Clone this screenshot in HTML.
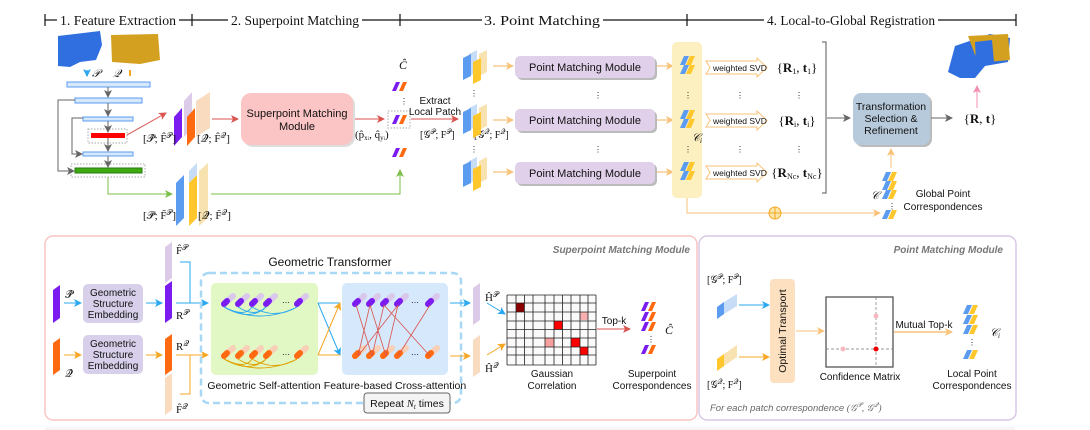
<!DOCTYPE html>
<html><head><meta charset="utf-8"><style>
html,body{margin:0;padding:0;background:#fff}
svg{display:block}
text{font-family:"Liberation Sans",sans-serif;fill:#111}
.s{font-family:"Liberation Serif",serif}
</style></head><body>
<svg width="1090" height="430" viewBox="0 0 1090 430" xmlns="http://www.w3.org/2000/svg">
<defs>
<marker id="ag" markerWidth="8" markerHeight="8" refX="7" refY="4" orient="auto" markerUnits="userSpaceOnUse"><path d="M0,0L8,4L0,8L2,4z" fill="#666"/></marker>
<marker id="ar" markerWidth="8" markerHeight="8" refX="7" refY="4" orient="auto" markerUnits="userSpaceOnUse"><path d="M0,0L8,4L0,8L2,4z" fill="#d9534f"/></marker>
<marker id="agr" markerWidth="8" markerHeight="8" refX="7" refY="4" orient="auto" markerUnits="userSpaceOnUse"><path d="M0,0L8,4L0,8L2,4z" fill="#7bbf4a"/></marker>
<marker id="ao" markerWidth="8" markerHeight="8" refX="7" refY="4" orient="auto" markerUnits="userSpaceOnUse"><path d="M0,0L8,4L0,8L2,4z" fill="#f9c27a"/></marker>
<marker id="ao2" markerWidth="8" markerHeight="8" refX="7" refY="4" orient="auto" markerUnits="userSpaceOnUse"><path d="M0,0L8,4L0,8L2,4z" fill="#f5a623"/></marker>
<marker id="ab" markerWidth="8" markerHeight="8" refX="7" refY="4" orient="auto" markerUnits="userSpaceOnUse"><path d="M0,0L8,4L0,8L2,4z" fill="#2aa8f0"/></marker>
<marker id="ap" markerWidth="8" markerHeight="8" refX="7" refY="4" orient="auto" markerUnits="userSpaceOnUse"><path d="M0,0L8,4L0,8L2,4z" fill="#f48fb1"/></marker>
<g id="pr"><polygon points="0,9 4,0 8,0 4,9" fill="#7a1cf0"/><polygon points="7,9 11,0 15,0 11,9" fill="#ff6a10"/></g>
<g id="by"><polygon points="0,9 4,0 9,0 5,9" fill="#5b9cf0"/><polygon points="6,9 10,0 15,0 11,9" fill="#ffc72c"/></g>
<g id="ptc"><polygon points="6,4 14,0 14,22 6,26" fill="#c6dcf7"/><polygon points="0,8 8,4 8,26 0,30" fill="#5b9cf0"/><polygon points="16,4 24,0 24,22 16,26" fill="#f8e2b0"/><polygon points="10,12 18,8 18,30 10,34" fill="#ffc72c"/></g>
<g id="tokp"><line x1="0" y1="8" x2="9" y2="0" stroke="#d9c8ec" stroke-width="6" stroke-linecap="round"/><line x1="0" y1="8" x2="3" y2="5" stroke="#7a1cf0" stroke-width="6" stroke-linecap="round"/></g>
<g id="toko"><line x1="0" y1="8" x2="9" y2="0" stroke="#f8d0b8" stroke-width="6" stroke-linecap="round"/><line x1="0" y1="8" x2="3" y2="5" stroke="#ff6a10" stroke-width="6" stroke-linecap="round"/></g>
</defs>

<!-- header -->
<g stroke="#111" stroke-width="1.2">
<line x1="45" y1="14" x2="45" y2="26"/><line x1="45" y1="20" x2="57" y2="20"/>
<line x1="179" y1="20" x2="228" y2="20"/><line x1="192" y1="14" x2="192" y2="26"/>
<line x1="362" y1="20" x2="482" y2="20"/><line x1="400" y1="14" x2="400" y2="26"/>
<line x1="603" y1="20" x2="764" y2="20"/><line x1="687" y1="14" x2="687" y2="26"/>
<line x1="938" y1="20" x2="1016" y2="20"/><line x1="1016" y1="14" x2="1016" y2="26"/>
</g>
<g font-size="14">
<text x="60" y="25" class="s" textLength="116" lengthAdjust="spacingAndGlyphs">1. Feature Extraction</text>
<text x="231" y="25" class="s" textLength="128" lengthAdjust="spacingAndGlyphs">2. Superpoint Matching</text>
<text x="484" y="25" class="s" textLength="116" lengthAdjust="spacingAndGlyphs">3. Point Matching</text>
<text x="767" y="25" class="s" textLength="168" lengthAdjust="spacingAndGlyphs">4. Local-to-Global Registration</text>
</g>

<!-- point clouds -->
<polygon points="58,36 100,31 102,45 96,60 80,62 70,67 58,66" fill="#2f6fe0"/>
<polygon points="111,35 158,34 160,60 140,64 112,62" fill="#d4a020"/>
<text x="92" y="77" font-size="11" class="s" font-style="italic">𝒫</text>
<path d="M87,70v6" stroke="#8ab8f0" stroke-width="2" marker-end="url(#ab)"/>
<text x="113" y="77" font-size="11" class="s" font-style="italic">𝒬</text>
<path d="M130,70v6" stroke="#f5a623" stroke-width="2"/>

<!-- encoder -->
<g fill="#d6e8fb" stroke="#5b9cf0" stroke-width="1">
<rect x="67" y="82" width="83" height="5"/><rect x="75" y="98" width="67" height="5"/>
<rect x="83" y="117" width="50" height="4"/><rect x="83" y="152" width="50" height="4"/>
</g>
<rect x="88" y="129" width="39" height="14" fill="none" stroke="#aaa" stroke-dasharray="1.5,1.5"/>
<rect x="91" y="133" width="34" height="5" fill="#f00"/>
<rect x="71" y="164" width="74" height="13" fill="none" stroke="#aaa" stroke-dasharray="1.5,1.5"/>
<rect x="75" y="168" width="67" height="5" fill="#3daa10" stroke="#2a7a10"/>
<g stroke="#666" stroke-width="1" fill="none">
<path d="M108,87v10" marker-end="url(#ag)"/><path d="M108,103v13" marker-end="url(#ag)"/>
<path d="M108,121v11" marker-end="url(#ag)"/><path d="M108,138v13" marker-end="url(#ag)"/>
<path d="M108,156v11" marker-end="url(#ag)"/>
<path d="M75,100H58V171H74" marker-end="url(#ag)"/><path d="M83,118H72V154H82" marker-end="url(#ag)"/>
</g>
<path d="M127,135L166,113" stroke="#d9534f" fill="none" marker-end="url(#ar)"/>

<!-- feature stacks -->
<polygon points="184,101 192,92 192,128 184,137" fill="#dccbe8"/>
<polygon points="196,101 210,92 210,128 196,137" fill="#f9dcc0"/>
<polygon points="174,117 182,108 182,137 174,146" fill="#7a1cf0"/>
<polygon points="187,117 195,108 195,137 187,146" fill="#ff6a10"/>
<text x="143" y="142" font-size="11" class="s">[𝒫̂; F̂<tspan font-size="8" dy="-4">𝒫</tspan><tspan dy="4">]</tspan></text>
<text x="197" y="142" font-size="11" class="s">[𝒬̂; F̂<tspan font-size="8" dy="-4">𝒬</tspan><tspan dy="4">]</tspan></text>
<path d="M212,119H238" stroke="#d9534f" marker-end="url(#ar)"/>
<rect x="241" y="93" width="112" height="52" rx="10" fill="#aaa" opacity="0.4" transform="translate(2,2)"/>
<rect x="241" y="93" width="112" height="52" rx="10" fill="#fcc5c5"/>
<text x="297" y="117" font-size="11" text-anchor="middle">Superpoint Matching</text>
<text x="297" y="130" font-size="11" text-anchor="middle">Module</text>
<path d="M355,119H384" stroke="#d9534f" marker-end="url(#ar)"/>
<text x="355" y="138" font-size="11" class="s">(p̂<tspan font-size="7" dy="2">x<tspan font-size="5">i</tspan></tspan><tspan dy="-2">, q̂</tspan><tspan font-size="7" dy="2">y<tspan font-size="5">i</tspan></tspan><tspan dy="-2">)</tspan></text>
<text x="399" y="69" font-size="12" class="s" font-style="italic">Ĉ</text>
<use href="#pr" x="392" y="82"/>
<text x="400" y="104" font-size="8">⋮</text>
<rect x="388" y="111" width="22" height="17" fill="none" stroke="#aaa" stroke-dasharray="1.5,1.5"/>
<use href="#pr" x="392" y="115"/>
<use href="#pr" x="392" y="148"/>
<!-- green path -->
<path d="M108,177V194H172" stroke="#7bbf4a" fill="none" marker-end="url(#agr)"/>
<path d="M211,194H400V170" stroke="#7bbf4a" fill="none" marker-end="url(#agr)"/>
<polygon points="189,171 197,163 197,218 189,226" fill="#c6dcf7"/>
<polygon points="199,171 208,163 208,218 199,226" fill="#f8e2b0"/>
<polygon points="176,183 184,175 184,218 176,226" fill="#5b9cf0"/>
<polygon points="189,183 197,175 197,218 189,226" fill="#ffc72c"/>
<text x="143" y="219" font-size="11" class="s">[𝒫̃; F̃<tspan font-size="8" dy="-4">𝒫</tspan><tspan dy="4">]</tspan></text>
<text x="198" y="219" font-size="11" class="s">[𝒬̃; F̃<tspan font-size="8" dy="-4">𝒬</tspan><tspan dy="4">]</tspan></text>

<!-- extract -->
<text x="435" y="104" font-size="10" text-anchor="middle">Extract</text>
<text x="435" y="115" font-size="10" text-anchor="middle">Local Patch</text>
<path d="M411,119H458" stroke="#d9534f" marker-end="url(#ar)"/>
<text x="420" y="138" font-size="10" class="s">[𝒢<tspan font-size="7" dy="-4">𝒫</tspan><tspan dy="4">; F</tspan><tspan font-size="7" dy="-4">𝒫</tspan><tspan dy="4">]</tspan></text>
<text x="474" y="138" font-size="10" class="s">[𝒢<tspan font-size="7" dy="-4">𝒬</tspan><tspan dy="4">; F</tspan><tspan font-size="7" dy="-4">𝒬</tspan><tspan dy="4">]</tspan></text>
<use href="#ptc" x="463" y="50"/><use href="#ptc" x="463" y="104"/><use href="#ptc" x="463" y="157"/>
<text x="470" y="96" font-size="8">⋮</text><text x="470" y="152" font-size="8">⋮</text>
<g stroke="#f9c27a" stroke-width="1.2"><path d="M493,66H513" marker-end="url(#ao)"/><path d="M493,120H513" marker-end="url(#ao)"/><path d="M493,172H513" marker-end="url(#ao)"/>
<path d="M655,66H673" marker-end="url(#ao)"/><path d="M655,120H673" marker-end="url(#ao)"/><path d="M655,172H673" marker-end="url(#ao)"/></g>
<g font-size="11" text-anchor="middle">
<rect x="517" y="58" width="140" height="22" rx="5" fill="#bbb"/><rect x="515" y="56" width="140" height="22" rx="5" fill="#e0d0ea"/><text x="585" y="71">Point Matching Module</text>
<rect x="517" y="111" width="140" height="22" rx="5" fill="#bbb"/><rect x="515" y="109" width="140" height="22" rx="5" fill="#e0d0ea"/><text x="585" y="124">Point Matching Module</text>
<rect x="517" y="164" width="140" height="22" rx="5" fill="#bbb"/><rect x="515" y="162" width="140" height="22" rx="5" fill="#e0d0ea"/><text x="585" y="177">Point Matching Module</text>
</g>
<text x="594" y="98" font-size="8">⋮</text><text x="594" y="152" font-size="8">⋮</text>
<rect x="672" y="42" width="30" height="156" rx="5" fill="#fdf0c0"/>
<use href="#by" x="680" y="56"/><use href="#by" x="680" y="65"/>
<use href="#by" x="680" y="110"/><use href="#by" x="680" y="119"/>
<use href="#by" x="680" y="162"/><use href="#by" x="680" y="171"/>
<text x="684" y="98" font-size="8">⋮</text><text x="684" y="152" font-size="8">⋮</text>
<text x="692" y="141" font-size="11" class="s" font-style="italic">𝒞<tspan font-size="7" dy="2">i</tspan></text>
<!-- svd arrows -->
<g font-size="8.5">
<polygon points="706,61 757,61 757,58 767,67.5 757,77 757,74 706,74 710,67.5" fill="#fff" stroke="#f9c27a"/><text x="713" y="71">weighted SVD</text>
<polygon points="706,114 757,114 757,111 767,120.5 757,130 757,127 706,127 710,120.5" fill="#fff" stroke="#f9c27a"/><text x="713" y="124">weighted SVD</text>
<polygon points="706,166 757,166 757,163 767,172.5 757,182 757,179 706,179 710,172.5" fill="#fff" stroke="#f9c27a"/><text x="713" y="176">weighted SVD</text>
</g>
<text x="736" y="98" font-size="8">⋮</text><text x="736" y="152" font-size="8">⋮</text>
<text x="795" y="98" font-size="8">⋮</text><text x="795" y="152" font-size="8">⋮</text>
<g font-size="13" text-anchor="middle">
<text x="797" y="72" class="s">{<tspan font-weight="bold">R</tspan><tspan font-size="8" dy="2">1</tspan><tspan dy="-2">, </tspan><tspan font-weight="bold">t</tspan><tspan font-size="8" dy="2">1</tspan><tspan dy="-2">}</tspan></text>
<text x="797" y="125" class="s">{<tspan font-weight="bold">R</tspan><tspan font-size="8" dy="2">i</tspan><tspan dy="-2">, </tspan><tspan font-weight="bold">t</tspan><tspan font-size="8" dy="2">i</tspan><tspan dy="-2">}</tspan></text>
<text x="797" y="177" class="s">{<tspan font-weight="bold">R</tspan><tspan font-size="8" dy="2">Nc</tspan><tspan dy="-2">, </tspan><tspan font-weight="bold">t</tspan><tspan font-size="8" dy="2">Nc</tspan><tspan dy="-2">}</tspan></text>
</g>
<path d="M822,42H826V193H822" stroke="#555" fill="none"/>
<path d="M827,118H850" stroke="#666" marker-end="url(#ag)"/>
<rect x="855" y="95" width="77" height="52" rx="8" fill="#bbb"/>
<rect x="853" y="93" width="77" height="52" rx="8" fill="#b7cadb"/>
<g font-size="10.5" text-anchor="middle"><text x="891" y="110">Transformation</text><text x="891" y="122">Selection &amp;</text><text x="891" y="134">Refinement</text></g>
<path d="M931,118H952" stroke="#666" marker-end="url(#ag)"/>
<text x="980" y="123" font-size="13" class="s" text-anchor="middle">{<tspan font-weight="bold">R</tspan>, <tspan font-weight="bold">t</tspan>}</text>
<polygon points="955,46 990,34 1010,38 1008,62 985,66 975,78 960,78 948,72" fill="#2f6fe0"/>
<polygon points="968,36 1008,34 1010,60 988,62 975,55" fill="#d4a020"/>
<polygon points="975,42 992,40 994,62 976,64" fill="#2f6fe0"/>
<path d="M977,108V86" stroke="#f48fb1" marker-end="url(#ap)"/>
<!-- global -->
<path d="M687,198V213H880" stroke="#f9c27a" fill="none" marker-end="url(#ao)"/>
<circle cx="775" cy="213" r="6" fill="#fde7a8" stroke="#f5a623"/><path d="M769,213h12M775,207v12" stroke="#f5a623"/>
<path d="M891,168V149" stroke="#f9c27a" marker-end="url(#ao)"/>
<use href="#by" x="882" y="172"/><use href="#by" x="882" y="181"/><use href="#by" x="882" y="190"/>
<text x="888" y="209" font-size="8">⋮</text><use href="#by" x="882" y="210"/>
<text x="871" y="199" font-size="11" class="s" font-style="italic">𝒞</text>
<text x="943" y="197" font-size="10" text-anchor="middle">Global Point</text>
<text x="943" y="210" font-size="10" text-anchor="middle">Correspondences</text>

<!-- bottom panels -->
<rect x="45" y="236" width="652" height="184" rx="8" fill="none" stroke="#f8c4c4" stroke-width="1.5"/>
<rect x="699" y="236" width="317" height="184" rx="8" fill="none" stroke="#d8c8e8" stroke-width="1.5"/>
<text x="690" y="253" font-size="10" font-style="italic" font-weight="bold" text-anchor="end" style="fill:#777">Superpoint Matching Module</text>
<text x="1003" y="253" font-size="10" font-style="italic" font-weight="bold" text-anchor="end" style="fill:#777">Point Matching Module</text>

<polygon points="53,290 60,285 60,318 53,323" fill="#7a1cf0"/>
<polygon points="53,343 60,338 60,370 53,375" fill="#ff6a10"/>
<text x="65" y="298" font-size="11" class="s">𝒫̂</text><text x="65" y="377" font-size="11" class="s">𝒬̂</text>
<path d="M64,303H81" stroke="#2aa8f0" marker-end="url(#ab)"/><path d="M64,355H81" stroke="#f5a623" marker-end="url(#ao2)"/>
<g font-size="10" text-anchor="middle">
<rect x="83" y="284" width="60" height="39" rx="5" fill="#d8d0ea"/><text x="113" y="296">Geometric</text><text x="113" y="307">Structure</text><text x="113" y="318">Embedding</text>
<rect x="83" y="335" width="60" height="39" rx="5" fill="#d8d0ea"/><text x="113" y="347">Geometric</text><text x="113" y="358">Structure</text><text x="113" y="369">Embedding</text>
</g>
<path d="M146,303H162" stroke="#2aa8f0" marker-end="url(#ab)"/><path d="M146,355H162" stroke="#f5a623" marker-end="url(#ao2)"/>
<polygon points="165,247 172,242 172,278 165,283" fill="#dccbe8"/>
<polygon points="165,286 172,281 172,318 165,323" fill="#7a1cf0"/>
<polygon points="165,339 172,334 172,370 165,375" fill="#ff6a10"/>
<polygon points="165,378 172,373 172,410 165,415" fill="#f9dcc0"/>
<g font-size="11"><text x="176" y="254" class="s">F̂<tspan font-size="8" dy="-4">𝒫</tspan></text><text x="176" y="319" class="s">R<tspan font-size="8" dy="-4">𝒫</tspan></text><text x="176" y="350" class="s">R<tspan font-size="8" dy="-4">𝒬</tspan></text><text x="176" y="413" class="s">F̂<tspan font-size="8" dy="-4">𝒬</tspan></text></g>
<path d="M180,262H190V303" stroke="#2aa8f0" fill="none"/><path d="M176,303H208" stroke="#2aa8f0" marker-end="url(#ab)"/>
<path d="M180,394H190V355" stroke="#f5a623" fill="none"/><path d="M176,355H208" stroke="#f5a623" marker-end="url(#ao2)"/>
<text x="330" y="266" font-size="12" text-anchor="middle">Geometric Transformer</text>
<rect x="201" y="273" width="260" height="130" rx="8" fill="none" stroke="#a8d8f4" stroke-width="2.5" stroke-dasharray="7,4"/>
<rect x="211" y="283" width="107" height="92" rx="5" fill="#e2f8c4"/>
<rect x="342" y="283" width="106" height="92" rx="5" fill="#d6e8fb"/>
<use href="#tokp" x="224" y="296"/><use href="#tokp" x="238" y="296"/><use href="#tokp" x="252" y="296"/><use href="#tokp" x="266" y="296"/><use href="#tokp" x="297" y="296"/>
<text x="282" y="305" font-size="8">⋯</text>
<use href="#toko" x="224" y="348"/><use href="#toko" x="238" y="348"/><use href="#toko" x="252" y="348"/><use href="#toko" x="266" y="348"/><use href="#toko" x="297" y="348"/>
<text x="282" y="357" font-size="8">⋯</text>
<g fill="none" stroke="#2aa8f0" stroke-width="0.9"><path d="M224,307Q260,325 297,307"/><path d="M224,307Q245,318 252,307"/><path d="M238,307Q255,318 266,307"/><path d="M252,307Q275,320 297,307"/><path d="M224,307Q250,322 266,307"/></g>
<g fill="none" stroke="#e0a000" stroke-width="0.9"><path d="M224,359Q260,377 297,359"/><path d="M224,359Q245,370 252,359"/><path d="M238,359Q255,370 266,359"/><path d="M252,359Q275,372 297,359"/><path d="M224,359Q250,374 266,359"/></g>
<g fill="none" stroke-width="1"><path d="M318,303L340,355" stroke="#2aa8f0" marker-end="url(#ab)"/><path d="M318,303H340" stroke="#2aa8f0"/><path d="M318,355L340,303" stroke="#f5a623" marker-end="url(#ao2)"/><path d="M318,355H340" stroke="#f5a623"/></g>
<use href="#tokp" x="355" y="296"/><use href="#tokp" x="369" y="296"/><use href="#tokp" x="383" y="296"/><use href="#tokp" x="397" y="296"/><use href="#tokp" x="428" y="296"/>
<text x="411" y="305" font-size="8">⋯</text>
<use href="#toko" x="355" y="348"/><use href="#toko" x="369" y="348"/><use href="#toko" x="383" y="348"/><use href="#toko" x="397" y="348"/><use href="#toko" x="428" y="348"/>
<text x="411" y="357" font-size="8">⋯</text>
<g stroke="#d9534f" stroke-width="0.8"><line x1="356" y1="305" x2="372" y2="356"/><line x1="370" y1="305" x2="358" y2="356"/><line x1="370" y1="305" x2="386" y2="356"/><line x1="384" y1="305" x2="372" y2="356"/><line x1="384" y1="305" x2="430" y2="356"/><line x1="398" y1="305" x2="386" y2="356"/><line x1="398" y1="305" x2="358" y2="356"/><line x1="430" y1="305" x2="398" y2="356"/></g>
<text x="264" y="389" font-size="10.5" text-anchor="middle">Geometric Self-attention</text>
<text x="395" y="389" font-size="10.5" text-anchor="middle">Feature-based Cross-attention</text>
<rect x="364" y="393" width="86" height="20" rx="3" fill="#f4f4f4" stroke="#666"/>
<text x="407" y="407" font-size="10.5" text-anchor="middle">Repeat <tspan class="s" font-style="italic">N<tspan font-size="7" dy="2">t</tspan></tspan><tspan dy="-2"> times</tspan></text>
<path d="M450,303H470" stroke="#2aa8f0" marker-end="url(#ab)"/><path d="M450,356H470" stroke="#f5a623" marker-end="url(#ao2)"/>
<polygon points="473,288 480,283 480,320 473,325" fill="#dccbe8"/>
<polygon points="473,340 480,335 480,372 473,377" fill="#f9dcc0"/>
<text x="485" y="301" font-size="11" class="s">Ĥ<tspan font-size="8" dy="-4">𝒫</tspan></text>
<text x="485" y="372" font-size="11" class="s">Ĥ<tspan font-size="8" dy="-4">𝒬</tspan></text>
<path d="M487,303L505,314" stroke="#2aa8f0" marker-end="url(#ab)"/><path d="M487,355L505,344" stroke="#f5a623" marker-end="url(#ao2)"/>
<rect x="507" y="295" width="89" height="70" fill="#fafafa"/>
<rect x="516" y="303" width="8" height="9" fill="#8b0000"/>
<rect x="554" y="321" width="8.5" height="8.5" fill="#f00"/>
<rect x="571" y="338" width="9" height="9" fill="#f00"/>
<rect x="580" y="347" width="8" height="8" fill="#f00"/>
<rect x="580" y="312" width="8" height="8" fill="#f7b0b0"/>
<rect x="545" y="338" width="9" height="9" fill="#f7a0a0"/>
<g stroke="#222" stroke-width="0.8">
<path d="M507,295V365M516,295V365M524.5,295V365M533,295V365M545,295V365M554,295V365M562.5,295V365M571,295V365M580,295V365M588,295V365M596,295V365"/>
<path d="M507,295H596M507,303H596M507,312H596M507,321H596M507,329.5H596M507,338H596M507,347H596M507,355H596M507,365H596"/>
</g>
<text x="552" y="377" font-size="10" text-anchor="middle">Gaussian</text><text x="552" y="389" font-size="10" text-anchor="middle">Correlation</text>
<text x="614" y="324" font-size="10" text-anchor="middle">Top-k</text>
<path d="M597,329H630" stroke="#d9534f" marker-end="url(#ar)"/>
<use href="#pr" x="641" y="302"/><use href="#pr" x="641" y="312"/><use href="#pr" x="641" y="322"/>
<text x="647" y="342" font-size="8">⋮</text><use href="#pr" x="641" y="345"/>
<text x="665" y="334" font-size="12" class="s" font-style="italic">Ĉ</text>
<text x="652" y="377" font-size="10" text-anchor="middle">Superpoint</text><text x="652" y="389" font-size="10" text-anchor="middle">Correspondences</text>

<!-- point matching module panel -->
<text x="707" y="283" font-size="10" class="s">[𝒢<tspan font-size="7" dy="-4">𝒫</tspan><tspan dy="4">; F</tspan><tspan font-size="7" dy="-4">𝒫</tspan><tspan dy="4">]</tspan></text>
<polygon points="724,302 737,294 737,306 724,314" fill="#c6dcf7"/>
<polygon points="717,307 724,302 724,314 717,319" fill="#5b9cf0"/>
<polygon points="724,354 737,345 737,357 724,366" fill="#f8e2b0"/>
<polygon points="717,359 724,354 724,366 717,371" fill="#ffc72c"/>
<text x="707" y="388" font-size="10" class="s">[𝒢<tspan font-size="7" dy="-4">𝒬</tspan><tspan dy="4">; F</tspan><tspan font-size="7" dy="-4">𝒬</tspan><tspan dy="4">]</tspan></text>
<path d="M739,305H769" stroke="#2aa8f0" marker-end="url(#ab)"/><path d="M739,357H769" stroke="#f5a623" marker-end="url(#ao2)"/>
<rect x="770" y="279" width="25" height="104" rx="4" fill="#fde0c0"/>
<text x="786" y="331" font-size="10.5" text-anchor="middle" transform="rotate(-90 786 331)">Optimal Transport</text>
<path d="M796,331H824" stroke="#f9c27a" marker-end="url(#ao)"/>
<rect x="826" y="297" width="67" height="70" fill="#fff" stroke="#555" stroke-width="1.3"/>
<path d="M876,297V367M826,349H893" stroke="#777" stroke-dasharray="3,2" stroke-width="0.7"/>
<circle cx="876" cy="316" r="2.5" fill="#f7b8c0"/><circle cx="843" cy="349" r="2.5" fill="#f7b8c0"/><circle cx="876" cy="349" r="2.5" fill="#e00"/>
<text x="860" y="380" font-size="10" text-anchor="middle">Confidence Matrix</text>
<text x="924" y="328" font-size="10" text-anchor="middle">Mutual Top-k</text>
<path d="M894,332H952" stroke="#f9c27a" stroke-width="1.5" marker-end="url(#ao)"/>
<use href="#by" x="963" y="305"/><use href="#by" x="963" y="315"/><use href="#by" x="963" y="325"/>
<text x="968" y="345" font-size="8">⋮</text><use href="#by" x="963" y="350"/>
<text x="990" y="336" font-size="11" class="s" font-style="italic">𝒞<tspan font-size="7" dy="2">i</tspan></text>
<text x="972" y="377" font-size="10" text-anchor="middle">Local Point</text><text x="972" y="389" font-size="10" text-anchor="middle">Correspondences</text>
<text x="710" y="411" font-size="9.5" font-style="italic" style="fill:#666">For each patch correspondence <tspan class="s">(𝒢<tspan font-size="7" dy="-4">𝒫</tspan><tspan dy="4">, 𝒢</tspan><tspan font-size="7" dy="-4">𝒬</tspan><tspan dy="4">)</tspan></tspan></text>
<rect x="45" y="427" width="970" height="3" fill="#f6f6f6"/>
</svg>
</body></html>
